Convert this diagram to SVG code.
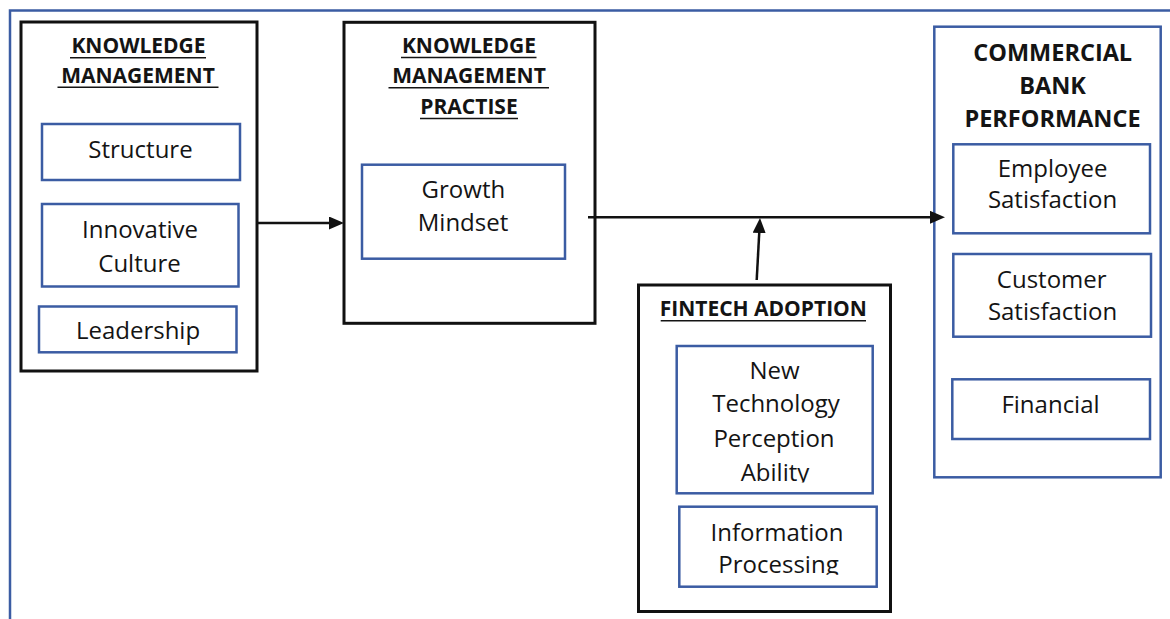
<svg xmlns="http://www.w3.org/2000/svg" width="1170" height="619" viewBox="0 0 1170 619">
  <style>
    .frame { fill: none; stroke: #3b5ca3; stroke-width: 2.5; }
    .group { fill: #ffffff; stroke: #111111; stroke-width: 3; }
    .item { fill: #ffffff; stroke: #3b5ca3; stroke-width: 2.5; }
    .panel { fill: #ffffff; stroke: #3b5ca3; stroke-width: 2.5; }
    text { font-family: "Open Sans", "Liberation Sans", sans-serif; fill: #141414; text-anchor: middle; }
    .label { font-size: 24px; }
    .head { font-size: 21px; font-weight: 700; }
    .head-lg { font-size: 23.5px; font-weight: 700; }
    .ul { stroke: #141414; stroke-width: 1.6; }
    .conn { fill: none; stroke: #111111; stroke-width: 2.5; }
  </style>
  <defs>
    <marker id="arrow" markerUnits="userSpaceOnUse" markerWidth="15" markerHeight="13" viewBox="0 0 15 13" refX="7" refY="6.5" orient="auto">
      <path d="M0,0 L15,6.5 L0,13 z" fill="#111111"/>
    </marker>
    <clipPath id="clip-ntpa"><rect x="676" y="346" width="198" height="136.5"/></clipPath>
    <clipPath id="clip-ip"><rect x="679" y="506" width="198" height="68.8"/></clipPath>
  </defs>

  <rect width="1170" height="619" fill="#ffffff"/>
  <!-- outer frame, open at right and bottom -->
  <rect class="frame" x="10" y="10.5" width="1300" height="800"/>

  <!-- Knowledge management -->
  <g id="knowledge-management">
    <rect class="group" x="21" y="22" width="236" height="349"/>
    <text class="head" x="138.5" y="53">KNOWLEDGE</text>
    <line class="ul" x1="70" y1="57.8" x2="206" y2="57.8"/>
    <text class="head" x="138" y="83">MANAGEMENT</text>
    <line class="ul" x1="57.5" y1="87.3" x2="218.5" y2="87.3"/>
    <g id="km-structure">
      <rect class="item" x="42" y="124" width="198" height="56"/>
      <text class="label" x="140.5" y="158">Structure</text>
    </g>
    <g id="km-innovative-culture">
      <rect class="item" x="42" y="204" width="196.5" height="82.5"/>
      <text class="label" x="140" y="238.3">Innovative</text>
      <text class="label" x="139.5" y="271.7">Culture</text>
    </g>
    <g id="km-leadership">
      <rect class="item" x="39" y="306.5" width="197.5" height="45.8"/>
      <text class="label" x="138" y="339">Leadership</text>
    </g>
  </g>

  <!-- Knowledge management practise -->
  <g id="km-practise">
    <rect class="group" x="344" y="22.3" width="251" height="301"/>
    <text class="head" x="469" y="52.8">KNOWLEDGE</text>
    <line class="ul" x1="401" y1="57.5" x2="536.5" y2="57.5"/>
    <text class="head" x="469" y="83.3">MANAGEMENT</text>
    <line class="ul" x1="388.5" y1="87.8" x2="549" y2="87.8"/>
    <text class="head" x="469" y="114">PRACTISE</text>
    <line class="ul" x1="420" y1="118.5" x2="518" y2="118.5"/>
    <g id="kmp-growth-mindset">
      <rect class="item" x="362" y="164.7" width="203" height="94"/>
      <text class="label" x="463.4" y="198.3">Growth</text>
      <text class="label" x="463" y="231">Mindset</text>
    </g>
  </g>

  <!-- Fintech adoption -->
  <g id="fintech-adoption">
    <rect class="group" x="638.5" y="285" width="252" height="326.5"/>
    <text class="head" x="763.3" y="316">FINTECH ADOPTION</text>
    <line class="ul" x1="660.7" y1="320.7" x2="866" y2="320.7"/>
    <g id="fa-new-technology">
      <rect class="item" x="676.7" y="346" width="196" height="147.3"/>
      <g clip-path="url(#clip-ntpa)">
        <text class="label" x="774.5" y="379.3">New</text>
        <text class="label" x="776" y="412.3">Technology</text>
        <text class="label" x="774" y="446.7">Perception</text>
        <text class="label" x="775" y="481">Ability</text>
      </g>
    </g>
    <g id="fa-information-processing">
      <rect class="item" x="679.3" y="506.7" width="197.4" height="80"/>
      <g clip-path="url(#clip-ip)">
        <text class="label" x="777" y="540.7">Information</text>
        <text class="label" x="778.5" y="573.3">Processing</text>
      </g>
    </g>
  </g>

  <!-- Commercial bank performance -->
  <g id="bank-performance">
    <rect class="panel" x="934.3" y="26.7" width="226.4" height="450.6"/>
    <text class="head-lg" x="1052.7" y="60.7">COMMERCIAL</text>
    <text class="head-lg" x="1052.5" y="94">BANK</text>
    <text class="head-lg" x="1052.5" y="126.7">PERFORMANCE</text>
    <g id="cbp-employee">
      <rect class="item" x="953.3" y="144.3" width="196.7" height="89"/>
      <text class="label" x="1052.5" y="176.7">Employee</text>
      <text class="label" x="1052.5" y="208.3">Satisfaction</text>
    </g>
    <g id="cbp-customer">
      <rect class="item" x="953.3" y="254" width="197.7" height="82.7"/>
      <text class="label" x="1051.7" y="288.3">Customer</text>
      <text class="label" x="1052.5" y="320">Satisfaction</text>
    </g>
    <g id="cbp-financial">
      <rect class="item" x="952.3" y="379.3" width="197.7" height="59.7"/>
      <text class="label" x="1050.5" y="413.3">Financial</text>
    </g>
  </g>

  <!-- connectors -->
  <g id="connectors">
    <path class="conn" d="M257,223 H336" marker-end="url(#arrow)"/>
    <path class="conn" d="M588,217.3 H937" marker-end="url(#arrow)"/>
    <path class="conn" d="M756.7,280 L759.6,226" marker-end="url(#arrow)"/>
  </g>
</svg>
